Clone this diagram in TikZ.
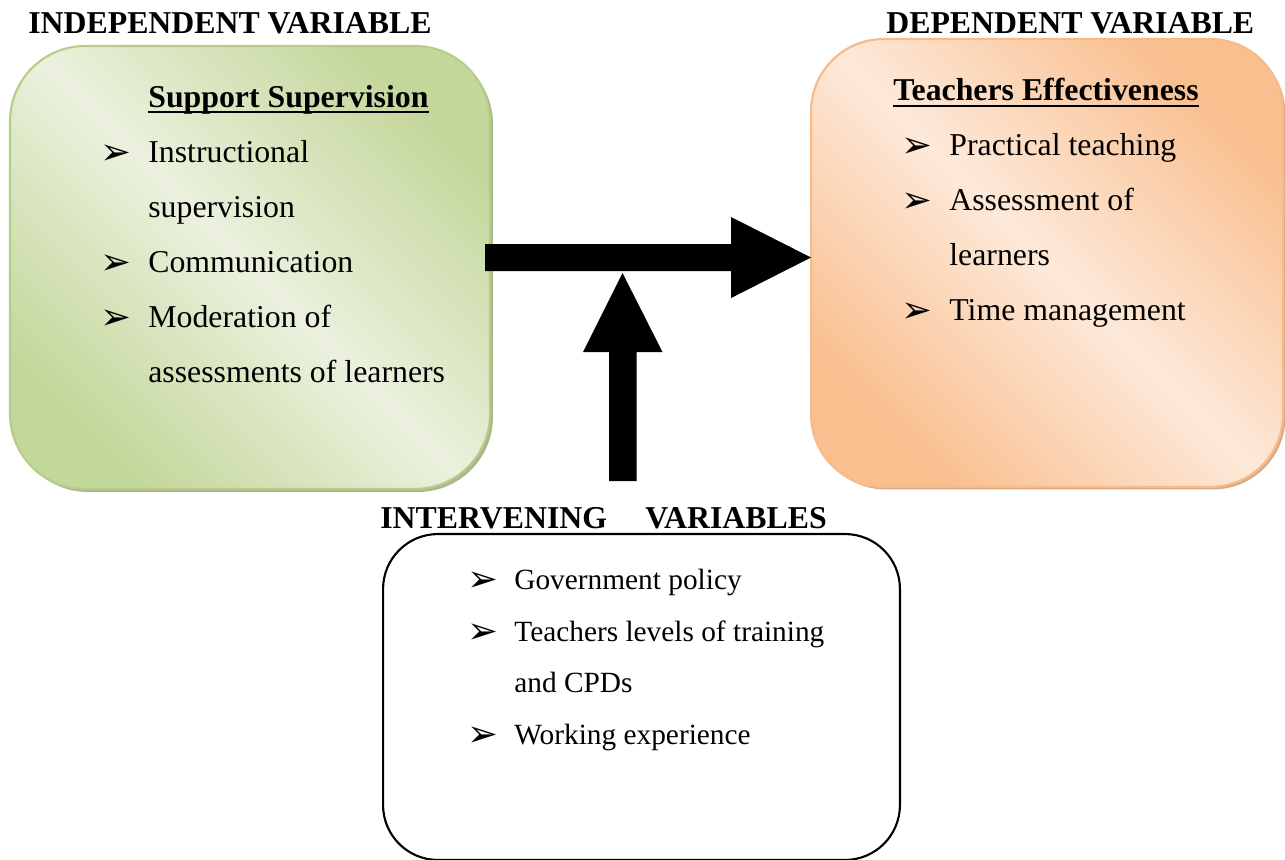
\documentclass[tikz,border=0pt]{standalone}
\usepackage{fontspec}
\setmainfont{Liberation Serif}
\newfontfamily\dingfont{DejaVu Sans}
\usetikzlibrary{shadows}

\definecolor{greenDark}{HTML}{C4D79B}
\definecolor{greenLight}{HTML}{EBF1DE}
\definecolor{greenEdge}{HTML}{B5CD88}
\definecolor{greenShadow}{HTML}{A8B88C}
\definecolor{orangeDark}{HTML}{F9BF8F}
\definecolor{orangeLight}{HTML}{FDE9D9}
\definecolor{orangeEdge}{HTML}{F8BA88}
\definecolor{orangeShadow}{HTML}{D8AA86}

\begin{document}
\begin{tikzpicture}[x=0.02cm, y=-0.02cm,
  panel/.style={rectangle, inner sep=0pt, outer sep=0pt, line width=1.2pt},
  greenpanel/.style={panel, rounded corners=1.5cm, draw=greenEdge,
    top color=greenDark, bottom color=greenDark, middle color=greenLight, shading angle=-45,
    drop shadow={shadow xshift=0.06cm, shadow yshift=-0.06cm, fill=greenShadow, opacity=1}},
  orangepanel/.style={panel, rounded corners=1.45cm, draw=orangeEdge,
    top color=orangeDark, bottom color=orangeDark, middle color=orangeLight, shading angle=-45,
    drop shadow={shadow xshift=0.05cm, shadow yshift=-0.05cm, fill=orangeShadow, opacity=1}},
  plainpanel/.style={panel, rounded corners=1.1cm, draw=black, fill=white},
  blockarrow/.style={fill=black},
  heading/.style={anchor=base west, inner sep=0pt, font=\fontsize{18.1pt}{20pt}\selectfont\bfseries},
  entry/.style={anchor=base west, inner sep=0pt, font=\fontsize{18.1pt}{20pt}\selectfont},
  smallentry/.style={anchor=base west, inner sep=0pt, font=\fontsize{16.7pt}{20pt}\selectfont},
  bullet/.style={anchor=base west, inner sep=0pt, font=\dingfont\fontsize{21pt}{22pt}\selectfont},
  uline/.style={line width=1.7pt}
]
\useasboundingbox (0,0) rectangle (1285,859);
\fill[white] (0,0) rectangle (1285,859);

% panels
\node[greenpanel, minimum width=9.6cm, minimum height=8.86cm] (indep) at (250,267.5) {};
\node[orangepanel, minimum width=9.44cm, minimum height=8.96cm] (dep) at (1047,263) {};
\node[plainpanel, minimum width=10.34cm, minimum height=6.52cm] (interv) at (641.5,697) {};

% column titles
\node[heading] (tIndep) at (28,33) {INDEPENDENT VARIABLE};
\node[heading] (tDep) at (886,33) {DEPENDENT VARIABLE};
\node[heading] (tInterv) at (380,528) {INTERVENING\hspace{1.2em}VARIABLES};

% independent variable
\node[heading] (hSup) at (148,107) {Support Supervision};
\draw[uline] ([yshift=-0.1cm]hSup.base west) -- ([yshift=-0.1cm]hSup.base east);
\node[bullet] (b1) at (100,164) {➢};
\node[entry] (i1) at (148,162) {Instructional};
\node[entry] (i1b) at (148,217) {supervision};
\node[bullet] (b2) at (100,274) {➢};
\node[entry] (i2) at (148,272) {Communication};
\node[bullet] (b3) at (100,329) {➢};
\node[entry] (i3) at (148,327) {Moderation of};
\node[entry] (i3b) at (148,382) {assessments of learners};

% dependent variable
\node[heading] (hEff) at (893,100) {Teachers Effectiveness};
\draw[uline] ([yshift=-0.12cm]hEff.base west) -- ([yshift=-0.12cm]hEff.base east);
\node[bullet] (d1) at (901,157) {➢};
\node[entry] (e1) at (949,155) {Practical teaching};
\node[bullet] (d2) at (901,212) {➢};
\node[entry] (e2) at (949,210) {Assessment of};
\node[entry] (e2b) at (949,265) {learners};
\node[bullet] (d3) at (901,322) {➢};
\node[entry] (e3) at (949,320) {Time management};

% intervening variables
\node[bullet] (v1b) at (467,591) {➢};
\node[smallentry] (v1) at (514,589) {Government policy};
\node[bullet] (v2b) at (467,643) {➢};
\node[smallentry] (v2) at (514,641) {Teachers levels of training};
\node[smallentry] (v2c) at (514,692) {and CPDs};
\node[bullet] (v3b) at (467,746) {➢};
\node[smallentry] (v3) at (514,744) {Working experience};

% block arrows
\coordinate (htail) at (485,257.5);
\coordinate (htip) at (dep.west |- htail);
\path[blockarrow] (htail) ++(0,-13.5) -- ++(246,0) -- ++(0,-27) -- (htip)
  -- ++(-80,40.5) -- ++(0,-27) -- ++(-246,0) -- cycle;

\coordinate (vtail) at (622.5,481);
\coordinate (vtip) at (622.5,273);
\path[blockarrow] (vtail) ++(-13.5,0) -- ++(0,-129) -- ++(-26,0) -- (vtip)
  -- ++(40,79) -- ++(-26,0) -- ++(0,129) -- cycle;
\end{tikzpicture}
\end{document}
